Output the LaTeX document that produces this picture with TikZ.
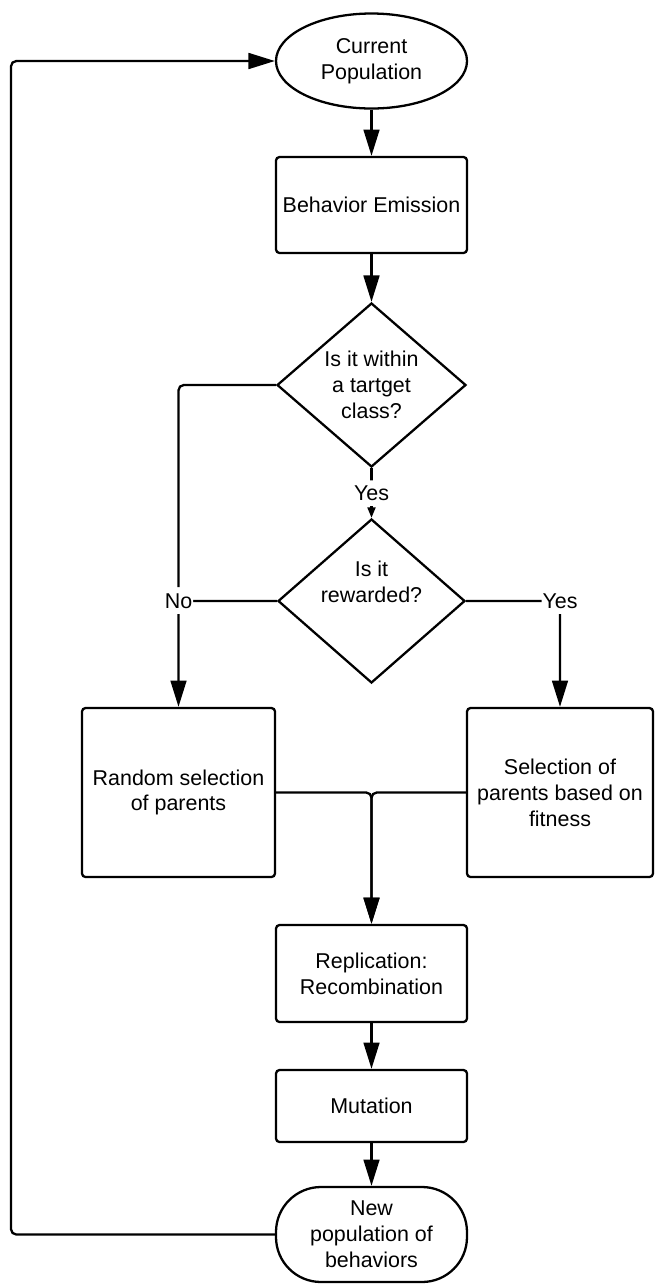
\documentclass[tikz,border=0pt]{standalone}
\usepackage{fontspec}
\setmainfont{Liberation Sans}
\usetikzlibrary{shapes.geometric,arrows.meta}

\tikzset{
  block/.style={draw, line width=1.3pt, rectangle, rounded corners=2pt, minimum width=3.82cm, align=center, inner sep=0pt},
  start/.style={draw, line width=1.3pt, ellipse, minimum width=3.82cm, minimum height=1.9cm, align=center, inner sep=0pt},
  decision/.style={draw, line width=1.3pt, diamond, minimum width=3.78cm, minimum height=3.28cm, align=center, inner sep=0pt},
  ende/.style={draw, line width=1.3pt, rectangle, rounded corners=0.9cm, minimum width=3.82cm, minimum height=1.9cm, align=center, inner sep=0pt},
  lbl/.style={fill=white, inner xsep=0.5pt, inner ysep=3pt},
  linie/.style={line width=1.3pt, rounded corners=3pt},
  pfeil/.style={linie, -{Triangle[length=15pt,width=9pt]}}
}

\begin{document}
\begin{tikzpicture}[font=\fontsize{12.2}{14.7}\selectfont]
\useasboundingbox (0,0) rectangle (13.1,-25.68);

%mittlere Spalte oben
\node[start] (cur) at (7.43,-1.22) {Current\\Population};
\node[block, minimum height=1.92cm] (emit) at (7.43,-4.10) {Behavior Emission};
\node[decision] (target) at (7.43,-7.70) {Is it within\\a tartget\\class?};
\node[decision, minimum width=3.74cm, label={[align=center, yshift=0.38cm]center:Is it\\rewarded?}] (reward) at (7.43,-12.02) {};

%Auswahl links und rechts
\node[block, minimum width=3.86cm, minimum height=3.38cm] (random) at (3.57,-15.85) {Random selection\\of parents};
\node[block, minimum width=3.72cm, minimum height=3.38cm] (select) at (11.2,-15.85) {Selection of\\parents based on\\fitness};

%mittlere Spalte unten
\node[block, minimum height=1.94cm] (repl) at (7.43,-19.47) {Replication:\\Recombination};
\node[block, minimum height=1.44cm] (mut) at (7.43,-22.12) {Mutation};
\node[ende] (newpop) at (7.43,-24.69) {New\\population of\\behaviors};

\coordinate (links) at (0.22,-12);

%Verbindungen
\draw[pfeil] (cur) -- (emit);
\draw[pfeil] (emit) -- (target);
\draw[linie, -{Triangle[length=6pt,width=4.5pt]}] (target) -- node[lbl] (yes1) {Yes} (reward);
\draw[pfeil] (reward.west) -| node[lbl, pos=0.5] (no) {No} (random.north);
\draw[linie] (target.west) -| (no.north);
\draw[pfeil] (reward.east) -| node[lbl, pos=0.5] (yes2) {Yes} (select.north);

%Zusammenführung
\draw[pfeil] (random.east) -| (repl.north);
\draw[pfeil] (select.west) -| (repl.north);
\draw[pfeil] (repl) -- (mut);
\draw[pfeil] (mut) -- (newpop);

%Rückführung
\draw[pfeil] (newpop.west) -| (links) |- (cur.west);

\end{tikzpicture}
\end{document}
